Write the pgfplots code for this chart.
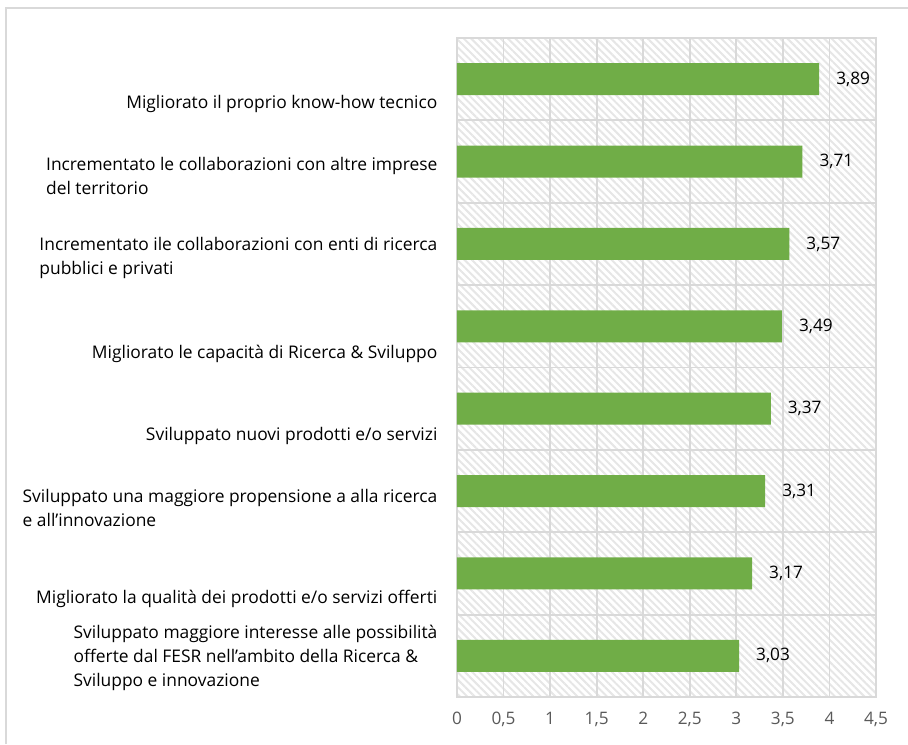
\documentclass[border=0pt]{standalone}
\usepackage{pgfplots}
\pgfplotsset{compat=1.18}
\usetikzlibrary{patterns.meta}
\usepackage{fontspec}
\setmainfont{Open Sans}
\definecolor{bargreen}{HTML}{70AD47}
\definecolor{gridc}{HTML}{D9D9D9}
\definecolor{tickc}{HTML}{595959}
\definecolor{hatchc}{HTML}{E6E6E6}
\begin{document}
\begin{tikzpicture}
\useasboundingbox (-228.5pt,-23.5pt) rectangle (225.5pt,348.5pt);
\draw[gridc, line width=0.75pt] (-225.5pt,-23.5pt) -- (-225.5pt,344.5pt) -- (225.5pt,344.5pt);
\begin{axis}[
 at={(0pt,0pt)}, anchor=south west,
 scale only axis, width=209.5pt, height=329.5pt,
 xmin=0, xmax=4.5, ymin=-0.5, ymax=7.5, y dir=reverse,
 xbar, bar width=16pt,
 axis background/.style={pattern={Lines[angle=-45,distance=2.6pt,line width=1pt]}, pattern color=hatchc},
 axis line style={gridc, line width=0.9pt},
 xtick={0,0.5,1,1.5,2,2.5,3,3.5,4,4.5},
 xmajorgrids=true,
 grid style={gridc, line width=0.9pt},
 x tick style={draw=none},
 xticklabel style={font=\fontsize{8.6}{10}\selectfont, text=tickc, yshift=-4pt},
 /pgf/number format/assume math mode=true,
 /pgf/number format/use comma,
 ytick={0.30,1.17,2.17,3.33,4.33,5.20,6.31,7.02},
 yticklabels={
  {Migliorato il proprio know-how tecnico},
  {Incrementato le collaborazioni con altre imprese\\del territorio},
  {Incrementato ile collaborazioni con enti di ricerca\\pubblici e privati},
  {Migliorato le capacità di Ricerca \& Sviluppo},
  {Sviluppato nuovi prodotti e/o servizi},
  {Sviluppato una maggiore propensione a alla ricerca\\e all’innovazione},
  {Migliorato la qualità dei prodotti e/o servizi offerti},
  {Sviluppato maggiore interesse alle possibilità\\offerte dal FESR nell’ambito della Ricerca \&\\Sviluppo e innovazione}
 },
 y tick style={draw=none},
 yticklabel style={font=\fontsize{8.7}{12}\selectfont, align=left, text=black, xshift=-2pt},
 extra y ticks={-0.5,0.5,1.5,2.5,3.5,4.5,5.5,6.5,7.5},
 extra y tick labels={},
 extra y tick style={grid=major, tick align=outside, major tick length=3.5pt, tick style={draw=gridc, line width=0.9pt}},
 nodes near coords,
 nodes near coords style={font=\fontsize{8.6}{10}\selectfont, text=black, anchor=west, xshift=5pt,
   /pgf/number format/fixed, /pgf/number format/precision=2, /pgf/number format/fixed zerofill, /pgf/number format/use comma},
]
\addplot[fill=bargreen, draw=none] coordinates {
 (3.89,0) (3.71,1) (3.57,2) (3.49,3) (3.37,4) (3.31,5) (3.17,6) (3.03,7)
};
\end{axis}
\end{tikzpicture}
\end{document}
